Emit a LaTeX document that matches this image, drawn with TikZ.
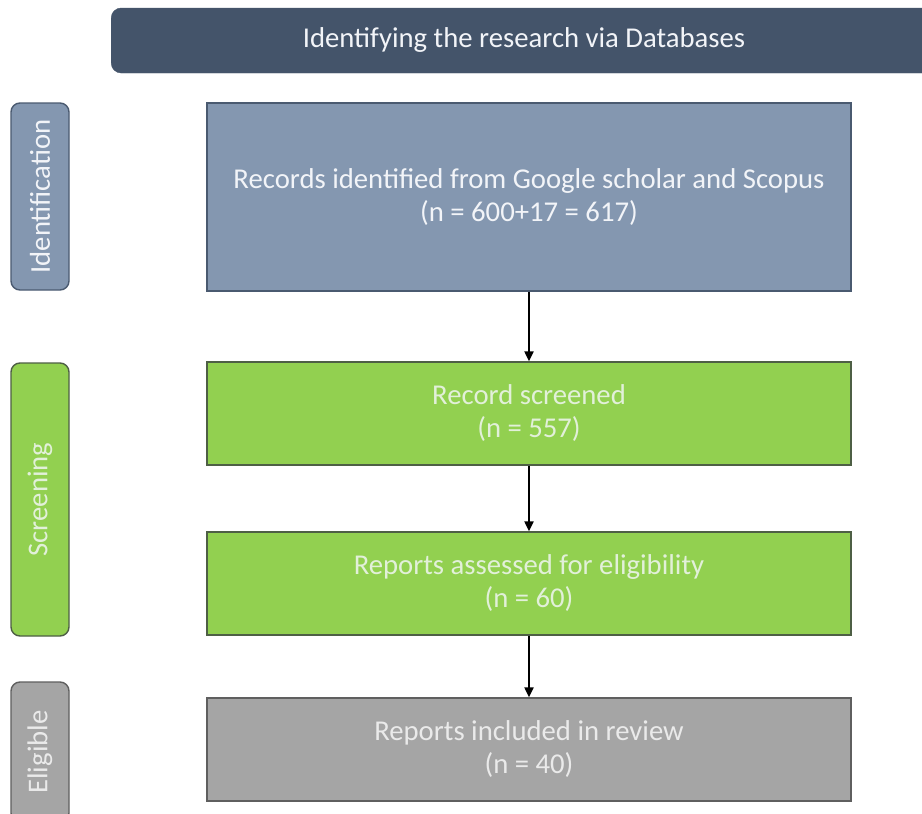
\documentclass[tikz,border=0pt]{standalone}
\usepackage{fontspec}
\setmainfont{Carlito}
\usetikzlibrary{arrows.meta}
\definecolor{banner}{HTML}{44546A}
\definecolor{idfill}{HTML}{8497B0}
\definecolor{idline}{HTML}{4A5A70}
\definecolor{grfill}{HTML}{92D050}
\definecolor{grline}{HTML}{4E5F45}
\definecolor{gyfill}{HTML}{A5A5A5}
\definecolor{gyline}{HTML}{5F5F5F}
\definecolor{grtext}{HTML}{E2F0D9}
\definecolor{gytext}{HTML}{EAEAEA}
\definecolor{idtext}{HTML}{F2F4F8}
\tikzset{
  mainbox/.style={draw, line width=1.4pt, minimum width=644pt, align=center, text=idtext, font=\fontsize{28.7}{33}\selectfont, inner sep=0pt},
  sidebox/.style={draw, line width=1.4pt, rounded corners=9pt, minimum height=58pt, rotate=90, font=\fontsize{28.7}{33}\selectfont, inner sep=0pt},
  flow/.style={line width=2.2pt, -{Triangle[length=10pt,width=9pt]}}
}
\begin{document}
\begin{tikzpicture}[x=1pt,y=-1pt]
\useasboundingbox (0,0) rectangle (922,814);
\fill[white] (0,0) rectangle (922,814);
% banner
\node[fill=banner, draw=banner, rounded corners=10pt, minimum width=830pt, minimum height=65pt, anchor=west, inner sep=0pt] (ban) at (111,40.5) {};
\node[text=idtext, font=\fontsize{28.7}{33}\selectfont] (bant) at (524,40.5) {Identifying the research via Databases};
% side boxes
\node[sidebox, fill=idfill, draw=idline, minimum width=187pt, text=idtext] (sid) at (40,196.5) {Identification};
\node[sidebox, fill=grfill, draw=grline, minimum width=273pt, text=grtext] (sscr) at (40,499.5) {Screening};
\node[sidebox, fill=gyfill, draw=gyline, minimum width=140pt, text=gytext] (self) at (40,752) {Eligible};
% main boxes
\node[mainbox, fill=idfill, draw=idline, minimum height=188pt] (b1) at (529,197) {Records identified from Google scholar and Scopus\\(n = 600+17 = 617)};
\node[mainbox, fill=grfill, draw=grline, minimum height=103pt, text=grtext] (b2) at (529,413.5) {Record screened\\(n = 557)};
\node[mainbox, fill=grfill, draw=grline, minimum height=103pt, text=grtext] (b3) at (529,583.5) {Reports assessed for eligibility\\(n = 60)};
\node[mainbox, fill=gyfill, draw=gyline, minimum height=103pt, text=gytext] (b4) at (529,749.5) {Reports included in review\\(n = 40)};
% arrows
\draw[flow] (b1) -- (b2);
\draw[flow] (b2) -- (b3);
\draw[flow] (b3) -- (b4);
\end{tikzpicture}
\end{document}
